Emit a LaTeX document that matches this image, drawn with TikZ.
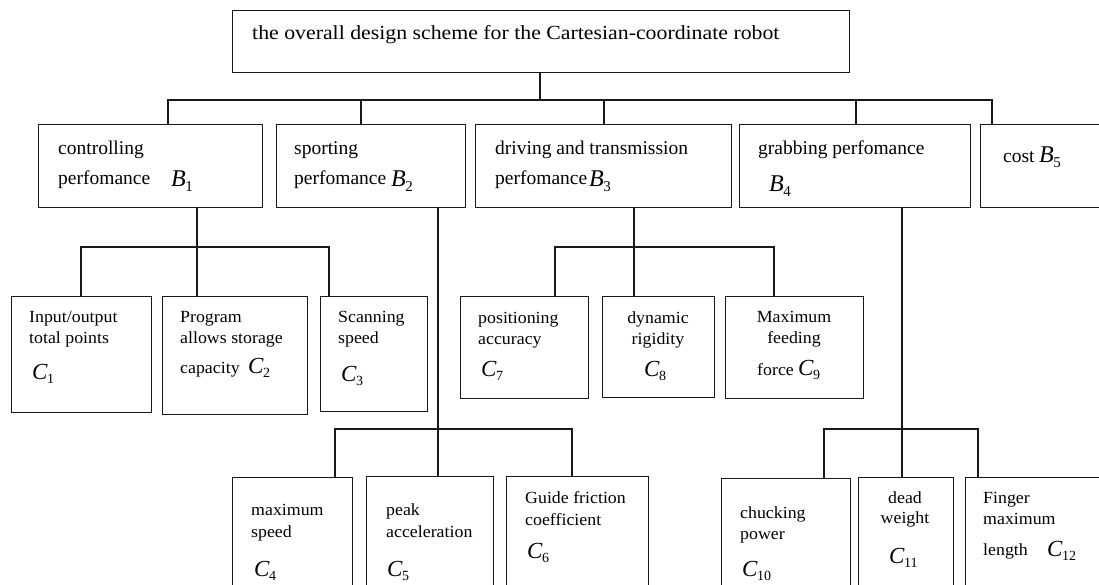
\documentclass[tikz,border=0pt]{standalone}
\usepackage{graphicx}
\usepackage{fontspec}
\setmainfont{Liberation Serif}
\newfontfamily\cf[FakeStretch=1.05]{Liberation Serif}
\newfontfamily\tf[FakeStretch=1.09]{Liberation Serif}
\newcommand{\csz}{\cf\fontsize{17pt}{20pt}\selectfont}
\newcommand{\bsz}{\fontsize{19.5pt}{24pt}\selectfont}
\newcommand{\tsz}{\tf\fontsize{20pt}{24pt}\selectfont}
\newcommand{\mC}[1]{{\fontsize{23pt}{23pt}\selectfont\itshape C}\kern-0.5pt\raisebox{-4pt}{\fontsize{14pt}{14pt}\selectfont #1}}
\newcommand{\mB}[1]{{\fontsize{24pt}{24pt}\selectfont\itshape B}\kern-0.5pt\raisebox{-4.5pt}{\fontsize{15pt}{15pt}\selectfont #1}}
\tikzset{
  box/.style={draw=black!90, line width=1.1pt, anchor=north west, inner sep=0pt},
  ln/.style={draw=black!90, line width=1.1pt},
  ct/.style={anchor=base west, inner sep=0pt, font=\csz},
  ctc/.style={anchor=base, inner sep=0pt, font=\csz},
  bt/.style={anchor=base west, inner sep=0pt, font=\bsz},
  mt/.style={anchor=base west, inner sep=0pt},
}
\begin{document}
\begin{tikzpicture}[x=1pt,y=-1pt]
\useasboundingbox (0,0) rectangle (1099,585);
\clip (0,0) rectangle (1099,585);
% boxes
\node[box, minimum width=617pt, minimum height=62pt] (top) at (232,10) {};
\node[box, minimum width=224pt, minimum height=83pt] (b1) at (38,124) {};
\node[box, minimum width=189pt, minimum height=83pt] (b2) at (276,124) {};
\node[box, minimum width=256pt, minimum height=83pt] (b3) at (475,124) {};
\node[box, minimum width=231pt, minimum height=83pt] (b4) at (739,124) {};
\node[box, minimum width=140pt, minimum height=83pt] (b5) at (980,124) {};
\node[box, minimum width=140pt, minimum height=116pt] (c1) at (11,296) {};
\node[box, minimum width=145pt, minimum height=118pt] (c2) at (162,296) {};
\node[box, minimum width=107pt, minimum height=115pt] (c3) at (320,296) {};
\node[box, minimum width=128pt, minimum height=102pt] (c7) at (460,296) {};
\node[box, minimum width=112pt, minimum height=101pt] (c8) at (602,296) {};
\node[box, minimum width=138pt, minimum height=102pt] (c9) at (725,296) {};
\node[box, minimum width=120pt, minimum height=130pt] (c4) at (232,477) {};
\node[box, minimum width=127pt, minimum height=130pt] (c5) at (366,476) {};
\node[box, minimum width=142pt, minimum height=130pt] (c6) at (506,476) {};
\node[box, minimum width=129pt, minimum height=130pt] (c10) at (721,478) {};
\node[box, minimum width=95pt, minimum height=130pt] (c11) at (858,477) {};
\node[box, minimum width=160pt, minimum height=130pt] (c12) at (965,477) {};
% junction coordinates
\coordinate (s0) at (540,100);
\coordinate (s1) at (168,100);
\coordinate (s2) at (361,100);
\coordinate (s3) at (604,100);
\coordinate (s4) at (856,100);
\coordinate (s5) at (992,100);
\coordinate (p1) at (197,247);
\coordinate (q1) at (81,247);
\coordinate (q3) at (329,247);
\coordinate (p3) at (634,247);
\coordinate (q7) at (555,247);
\coordinate (q9) at (774,247);
\coordinate (p2) at (438,429);
\coordinate (q4) at (335,429);
\coordinate (q6) at (572,429);
\coordinate (p4) at (902,429);
\coordinate (q10) at (824,429);
\coordinate (q12) at (978,429);
% connectors level 1
\draw[ln] (top.south -| s0) -- (s0);
\draw[ln] (b1.north -| s1) -- (s1) -- (s5) -- (b5.north -| s5);
\draw[ln] (s2) -- (b2.north -| s2);
\draw[ln] (s3) -- (b3.north -| s3);
\draw[ln] (s4) -- (b4.north -| s4);
% B1 -> C1..C3
\draw[ln] (b1.south -| p1) -- (c2.north -| p1);
\draw[ln] (c1.north -| q1) -- (q1) -- (q3) -- (c3.north -| q3);
% B3 -> C7..C9
\draw[ln] (b3.south -| p3) -- (c8.north -| p3);
\draw[ln] (c7.north -| q7) -- (q7) -- (q9) -- (c9.north -| q9);
% B2 -> C4..C6
\draw[ln] (b2.south -| p2) -- (c5.north -| p2);
\draw[ln] (c4.north -| q4) -- (q4) -- (q6) -- (c6.north -| q6);
% B4 -> C10..C12
\draw[ln] (b4.south -| p4) -- (c11.north -| p4);
\draw[ln] (c10.north -| q10) -- (q10) -- (q12) -- (c12.north -| q12);
% texts
\node[anchor=base west, inner sep=0pt, font=\tsz] (tt) at (252,40) {the overall design scheme for the Cartesian-coordinate robot};
\node[bt] (b1a) at (58,155) {controlling};
\node[bt] (b1b) at (58,185) {perfomance};
\node[mt] (b1m) at (171,187) {\mB{1}};
\node[bt] (b2a) at (294,155) {sporting};
\node[bt] (b2b) at (294,185) {perfomance};
\node[mt] (b2m) at (391,187) {\mB{2}};
\node[bt] (b3a) at (495,155) {driving and transmission};
\node[bt] (b3b) at (495,185) {perfomance};
\node[mt] (b3m) at (589,187) {\mB{3}};
\node[bt] (b4a) at (758,155) {grabbing perfomance};
\node[mt] (b4m) at (769,192) {\mB{4}};
\node[bt] (b5a) at (1003,163) {cost};
\node[mt] (b5m) at (1039,163) {\mB{5}};
% C texts
\node[ct] (c1a) at (29,322) {Input/output};
\node[ct] (c1b) at (29,343) {total points};
\node[mt] (c1m) at (32,379) {\mC{1}};
\node[ct] (c2a) at (180,322) {Program};
\node[ct] (c2b) at (180,343) {allows storage};
\node[ct] (c2c) at (180,373) {capacity};
\node[mt] (c2m) at (248,373) {\mC{2}};
\node[ct] (c3a) at (338,322) {Scanning};
\node[ct] (c3b) at (338,343) {speed};
\node[mt] (c3m) at (341,381) {\mC{3}};
\node[ct] (c7a) at (478,323) {positioning};
\node[ct] (c7b) at (478,344) {accuracy};
\node[mt] (c7m) at (481,376) {\mC{7}};
\node[ctc] (c8a) at (658,323) {dynamic};
\node[ctc] (c8b) at (658,344) {rigidity};
\node[mt] (c8m) at (644,376) {\mC{8}};
\node[ctc] (c9a) at (794,322) {Maximum};
\node[ctc] (c9b) at (794,343) {feeding};
\node[ct] (c9c) at (757,375) {force};
\node[mt] (c9m) at (798,375) {\mC{9}};
\node[ct] (c4a) at (251,515) {maximum};
\node[ct] (c4b) at (251,537) {speed};
\node[mt] (c4m) at (254,576) {\mC{4}};
\node[ct] (c5a) at (386,515) {peak};
\node[ct] (c5b) at (386,537) {acceleration};
\node[mt] (c5m) at (387,576) {\mC{5}};
\node[ct] (c6a) at (525,503) {Guide friction};
\node[ct] (c6b) at (525,525) {coefficient};
\node[mt] (c6m) at (527,558) {\mC{6}};
\node[ct] (c10a) at (740,518) {chucking};
\node[ct] (c10b) at (740,539) {power};
\node[mt] (c10m) at (742,576) {\mC{10}};
\node[ctc] (c11a) at (905,503) {dead};
\node[ctc] (c11b) at (905,523) {weight};
\node[mt] (c11m) at (889,563) {\mC{11}};
\node[ct] (c12a) at (983,503) {Finger};
\node[ct] (c12b) at (983,524) {maximum};
\node[ct] (c12c) at (983,555) {length};
\node[mt] (c12m) at (1047,556) {\mC{12}};
\end{tikzpicture}
\end{document}
